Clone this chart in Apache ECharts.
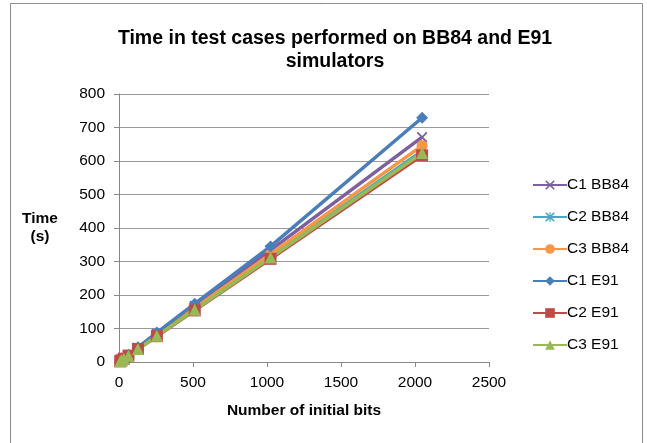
<!DOCTYPE html>
<html><head><meta charset="utf-8">
<script src="https://cdn.jsdelivr.net/npm/echarts@6/dist/echarts.min.js"></script>
<style>html,body{margin:0;padding:0;background:#fff}#c{width:647px;height:443px}</style>
</head><body><div id="c"></div>
<script>
const bits = [8, 16, 32, 64, 128, 256, 512, 1024, 2048];
const c1BB84 = [3, 5, 10, 21, 42, 84, 167, 334, 671];
const c2BB84 = [2, 5, 10, 20, 40, 79, 158, 314, 630];
const c3BB84 = [3, 5, 10, 20, 40, 80, 161, 322, 646];
const c1E91 = [3, 6, 11, 22, 44, 88, 174, 345, 729];
const c2E91 = [2, 5, 10, 19, 39, 77, 154, 308, 617];
const c3E91 = [2, 5, 10, 19, 39, 78, 156, 312, 624];
const yTicks = [0, 100, 200, 300, 400, 500, 600, 700, 800];
const xTicks = [0, 500, 1000, 1500, 2000, 2500];

const X = 'path://M0,1.2 L1.2,0 L5,3.8 L8.8,0 L10,1.2 L6.2,5 L10,8.8 L8.8,10 L5,6.2 L1.2,10 L0,8.8 L3.8,5 Z';
const AST = 'path://M0,1.2 L1.2,0 L5,3.8 L8.8,0 L10,1.2 L6.2,5 L10,8.8 L8.8,10 L5,6.2 L1.2,10 L0,8.8 L3.8,5 Z M4.4,0 L5.6,0 L5.6,10 L4.4,10 Z';

const font = '"Liberation Sans", Arial, sans-serif';
function mk(name, data, color, symbol, size) {
  return {
    name, type: 'line', data: bits.map((b, i) => [b, data[i]]),
    symbol, symbolSize: size,
    lineStyle: { color, width: 3.5 },
    itemStyle: { color },
    emphasis: { disabled: true },
    animation: false
  };
}
const chart = echarts.init(document.getElementById('c'));
chart.setOption({
  backgroundColor: '#fff',
  animation: false,
  graphic: [{ type: 'rect', shape: { x: 10.5, y: 3.5, width: 632, height: 460 }, style: { fill: 'none', stroke: '#8c8c8c', lineWidth: 1 } }],
  title: {
    text: 'Time in test cases performed on BB84 and E91\nsimulators',
    left: 330, top: 22, textAlign: 'center',
    textStyle: { fontFamily: font, fontWeight: 'bold', fontSize: 19.5, color: '#000', lineHeight: 23 }
  },
  legend: {
    orient: 'vertical', left: 527, top: 172, itemGap: 16, itemWidth: 34, itemHeight: 12,
    textStyle: { fontFamily: font, fontSize: 15.5, color: '#000', padding: [0, 0, 0, -5] },
    data: ['C1 BB84', 'C2 BB84', 'C3 BB84', 'C1 E91', 'C2 E91', 'C3 E91']
  },
  grid: { left: 119, right: 158, top: 94, bottom: 81 },
  xAxis: {
    type: 'value', min: 0, max: 2500, interval: 500,
    name: 'Number of initial bits', nameLocation: 'middle', nameGap: 41,
    nameTextStyle: { fontFamily: font, fontWeight: 'bold', fontSize: 15.5, color: '#000' },
    axisLine: { lineStyle: { color: '#888' } },
    axisTick: { show: true, length: 5, lineStyle: { color: '#888' } },
    splitLine: { show: false },
    axisLabel: { fontFamily: font, fontSize: 15.5, color: '#000', margin: 13, formatter: v => xTicks.includes(v) ? String(v) : '' }
  },
  yAxis: {
    type: 'value', min: 0, max: 800, interval: 100,
    name: 'Time\n(s)', nameLocation: 'middle', nameGap: 79, nameRotate: 0,
    nameTextStyle: { fontFamily: font, fontWeight: 'bold', fontSize: 15.5, color: '#000', lineHeight: 18, align: 'center' },
    axisLine: { show: true, lineStyle: { color: '#888' } },
    axisTick: { show: true, length: 5, lineStyle: { color: '#888' } },
    splitLine: { lineStyle: { color: '#999' } },
    axisLabel: { fontFamily: font, fontSize: 15.5, color: '#000', margin: 14, formatter: v => yTicks.includes(v) ? String(v) : '' }
  },
  series: [
    mk('C1 BB84', c1BB84, '#7D60A0', X, 11),
    mk('C2 BB84', c2BB84, '#46AAC5', AST, 11),
    mk('C3 BB84', c3BB84, '#F79646', 'circle', 11),
    mk('C1 E91', c1E91, '#4A7EBB', 'diamond', 12),
    mk('C2 E91', c2E91, '#BE4B48', 'rect', 12),
    mk('C3 E91', c3E91, '#98B954', 'triangle', 12)
  ]
});
</script></body></html>
